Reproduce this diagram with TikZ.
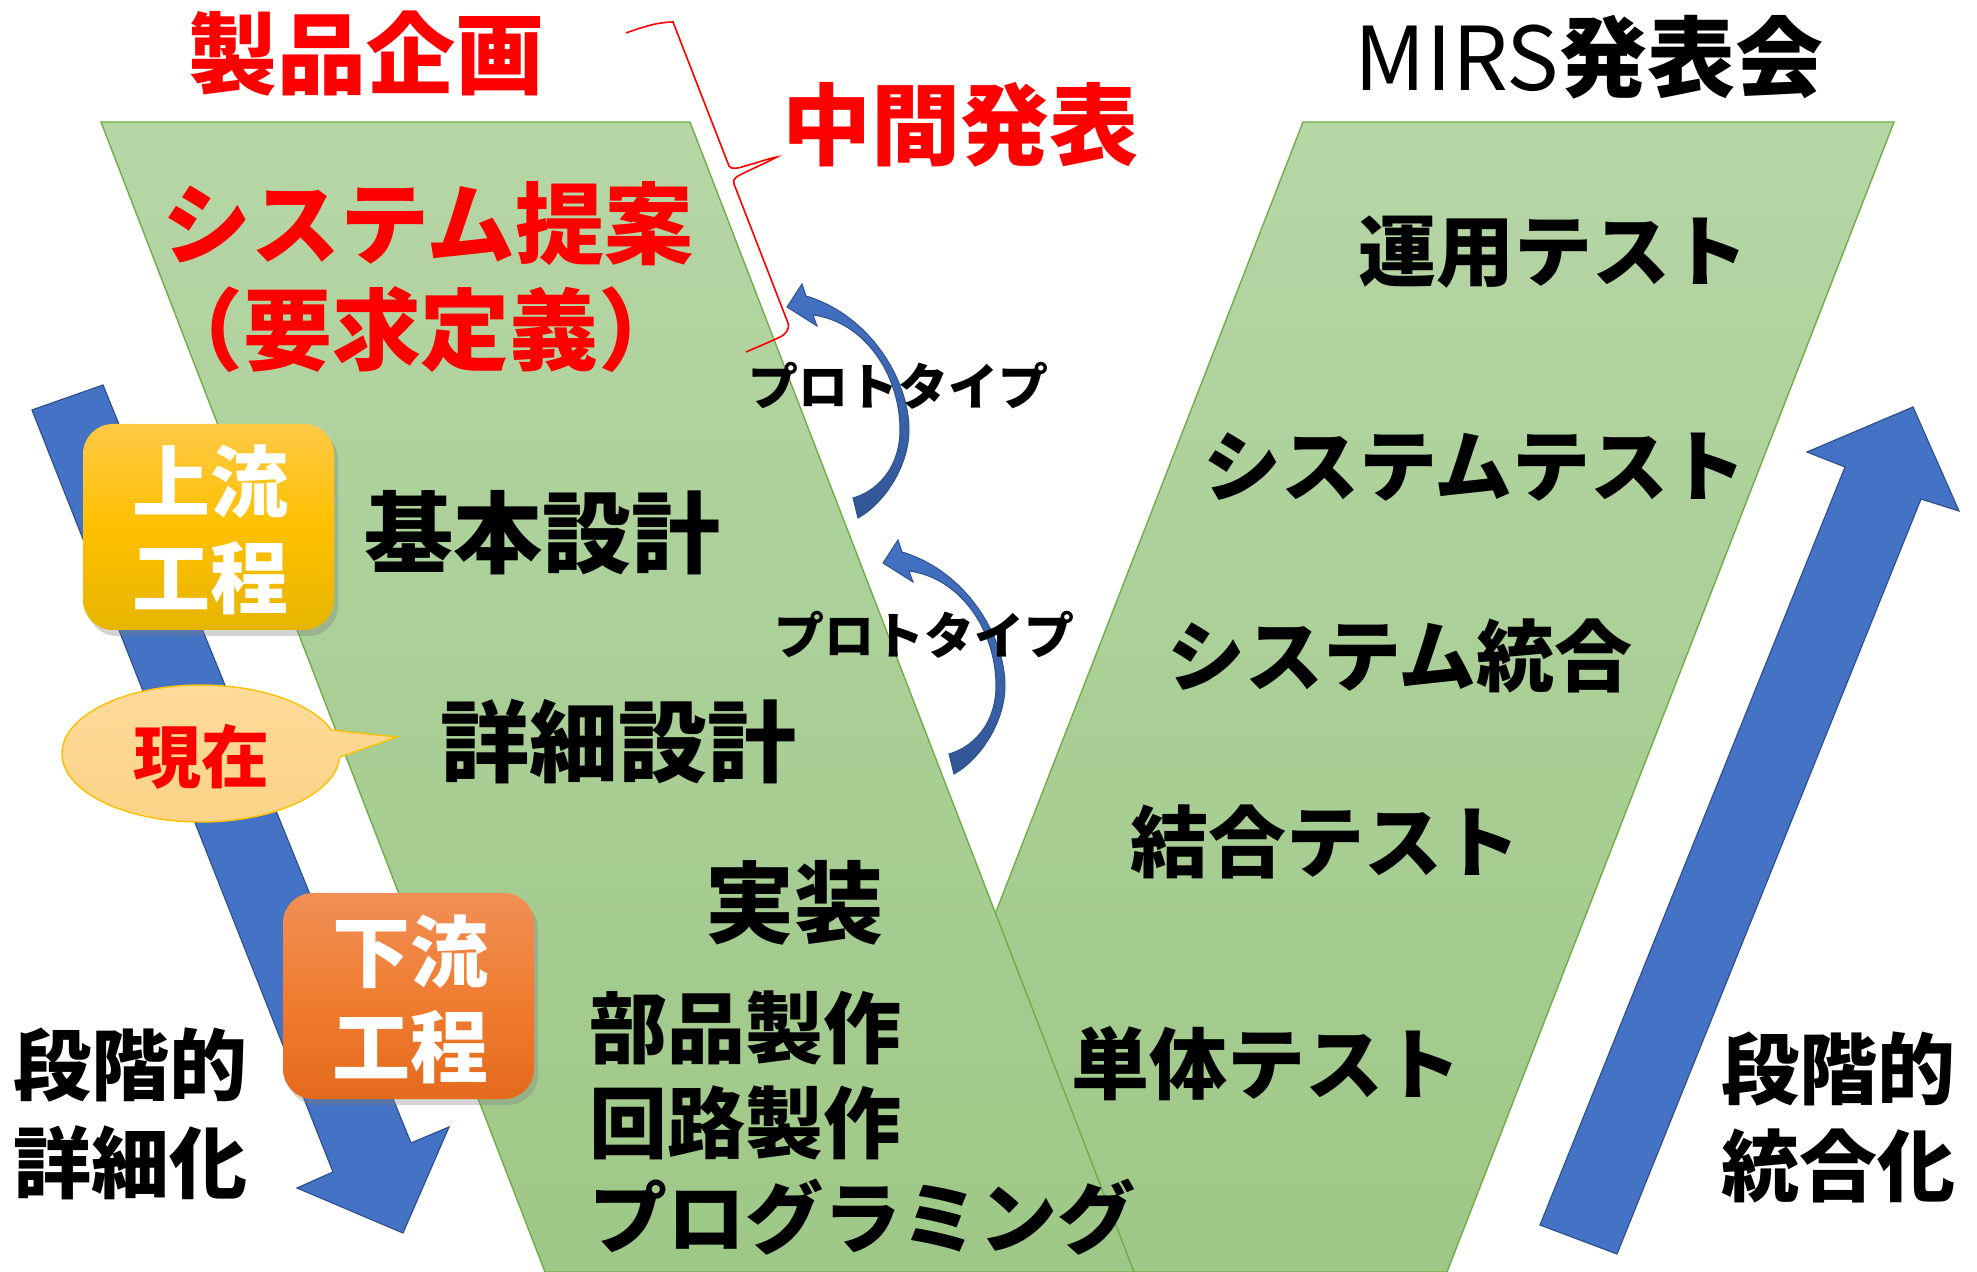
\documentclass[tikz,border=0pt]{standalone}
\usepackage{fontspec}
\newfontfamily\jp{Noto Sans CJK JP}
\usetikzlibrary{shadows}
\definecolor{gtop}{RGB}{182,214,166}
\definecolor{gbot}{RGB}{158,200,135}
\definecolor{gline}{RGB}{112,173,71}
\definecolor{blueA}{RGB}{68,114,196}
\definecolor{blueL}{RGB}{47,82,143}
\definecolor{blueD}{RGB}{50,86,150}
\definecolor{yTop}{RGB}{255,201,71}
\definecolor{yMid}{RGB}{255,192,0}
\definecolor{yBot}{RGB}{230,181,0}
\definecolor{oTop}{RGB}{241,143,86}
\definecolor{oMid}{RGB}{240,125,50}
\definecolor{oBot}{RGB}{228,106,28}
\definecolor{cTop}{RGB}{253,219,154}
\definecolor{cBot}{RGB}{252,211,135}
\definecolor{cLine}{RGB}{255,192,0}
\newcommand\fsz[1]{\fontsize{#1}{#1}\selectfont}
\tikzset{
  Hbig/.style={inner sep=0pt, font=\jp\bfseries\fsz{44.5pt}},
  Hmid/.style={inner sep=0pt, font=\jp\bfseries\fsz{39pt}},
  Hsmall/.style={inner sep=0pt, font=\jp\bfseries\fsz{25pt}},
  boxtxt/.style={inner sep=0pt, font=\jp\bfseries\fsz{39pt}, text=white},
  procbox/.style={rounded corners=15pt, inner sep=0pt, minimum width=125.5pt, minimum height=103pt,
    drop shadow={opacity=0.35, shadow xshift=2pt, shadow yshift=-3pt}},
  vpanel/.style={top color=gtop, bottom color=gbot, draw=gline, line width=0.7pt},
  bigarrow/.style={fill=blueA, draw=blueL, line width=0.6pt},
  curvarrow/.style={top color=blueA, bottom color=blueD, draw=blueL, line width=0.5pt},
}
\begin{document}
\begin{tikzpicture}[x=0.5pt,y=-0.5pt]
\useasboundingbox (0,0) rectangle (1977,1272);
% right panel
\path[vpanel] (1303,122) -- (1894,122) -- (1447,1272) -- (856,1272) -- cycle;
% left panel
\path[vpanel] (101,122) -- (690,122) -- (1134,1272) -- (545,1272) -- cycle;
% big arrows
\path[bigarrow] (32,410) -- (103,385) -- (411,1143) -- (449,1127) -- (403,1233) -- (297,1188) -- (333,1172) -- cycle;
\path[bigarrow] (1540,1225) -- (1845,467) -- (1807,452) -- (1913,407) -- (1959,511) -- (1921,499) -- (1617,1254) -- cycle;
% curved prototype arrows
\foreach \dx/\dy in {0/0, 96/256}{
\begin{scope}[shift={(\dx,\dy)}]
\path[curvarrow] (858,518) .. controls (885,503) and (909,465) .. (909,430)
  .. controls (909,380) and (870,315) .. (806,296)
  -- (802,284) -- (787,307) -- (817,326) -- (813,315)
  .. controls (865,322) and (900,375) .. (900,430)
  .. controls (900,465) and (880,490) .. (853,498) -- cycle;
\end{scope}}
% brace
\draw[red, line width=0.8pt] (626,33) .. controls (645,26) and (660,22) .. (673,22) -- (729,166)
  .. controls (731,170) and (740,168) .. (745,166) .. controls (760,162) and (770,158) .. (777,157)
  .. controls (768,162) and (745,172) .. (738,176) .. controls (733,179) and (733,182) .. (734,184)
  -- (788,323) .. controls (790,330) and (785,335) .. (778,338) .. controls (765,344) and (755,348) .. (746,352);
% boxes
\node[procbox, top color=yTop, bottom color=yBot, middle color=yMid] (upbox) at (208.5,527) {};
\node[boxtxt] (up1) at (210,482) {上流};
\node[boxtxt] (up2) at (210,578) {工程};
\node[procbox, top color=oTop, bottom color=oBot, middle color=oMid] (downbox) at (408.5,996) {};
\node[boxtxt] (down1) at (410,952) {下流};
\node[boxtxt] (down2) at (410,1047) {工程};
% callout
\path[top color=cTop, bottom color=cBot, draw=cLine, line width=0.7pt]
  (339.8,757.1) arc[start angle=-3, end angle=-340, x radius=69.5pt, y radius=34.25pt] -- (397,737) -- cycle;
\node[inner sep=0pt, font=\jp\bfseries\fsz{34pt}, text=red] (genzai) at (201,757) {現在};
% texts
\node[Hbig, text=red] (seihin) at (366,54) {製品企画};
\node[Hbig, text=red] (chukan) at (960,125) {中間発表};
\node[inner sep=0pt, font=\jp\fsz{44pt}] (mirs) at (1589,57) {MIRS{\bfseries 発表会}};
\node[Hbig, text=red] (teian) at (428,224) {システム提案};
\node[Hbig, text=red] (yokyu) at (421,330) {（要求定義）};
\node[Hbig] (kihon) at (542,533) {基本設計};
\node[Hbig] (shosai) at (618,742) {詳細設計};
\node[Hbig] (jisso) at (794,903) {実装};
\node[Hmid, anchor=west] (buhin) at (589,1028) {部品製作};
\node[Hmid, anchor=west] (kairo) at (589,1123) {回路製作};
\node[Hmid, anchor=west] (prog) at (589,1217) {プログラミング};
\node[Hsmall] (proto1) at (898,386) {プロトタイプ};
\node[Hsmall] (proto2) at (924,635) {プロトタイプ};
\node[Hmid] (unyo) at (1553,252) {運用テスト};
\node[Hmid] (systest) at (1475,467) {システムテスト};
\node[Hmid] (systogo) at (1400,656) {システム統合};
\node[Hmid] (ketsugo) at (1325,842) {結合テスト};
\node[Hmid] (tantai) at (1266,1064) {単体テスト};
\node[Hmid, anchor=west] (dankaiL) at (13,1065) {段階的};
\node[Hmid, anchor=west] (shosaika) at (13,1163) {詳細化};
\node[Hmid, anchor=west] (dankaiR) at (1721,1069) {段階的};
\node[Hmid, anchor=west] (togoka) at (1721,1166) {統合化};
\end{tikzpicture}
\end{document}
